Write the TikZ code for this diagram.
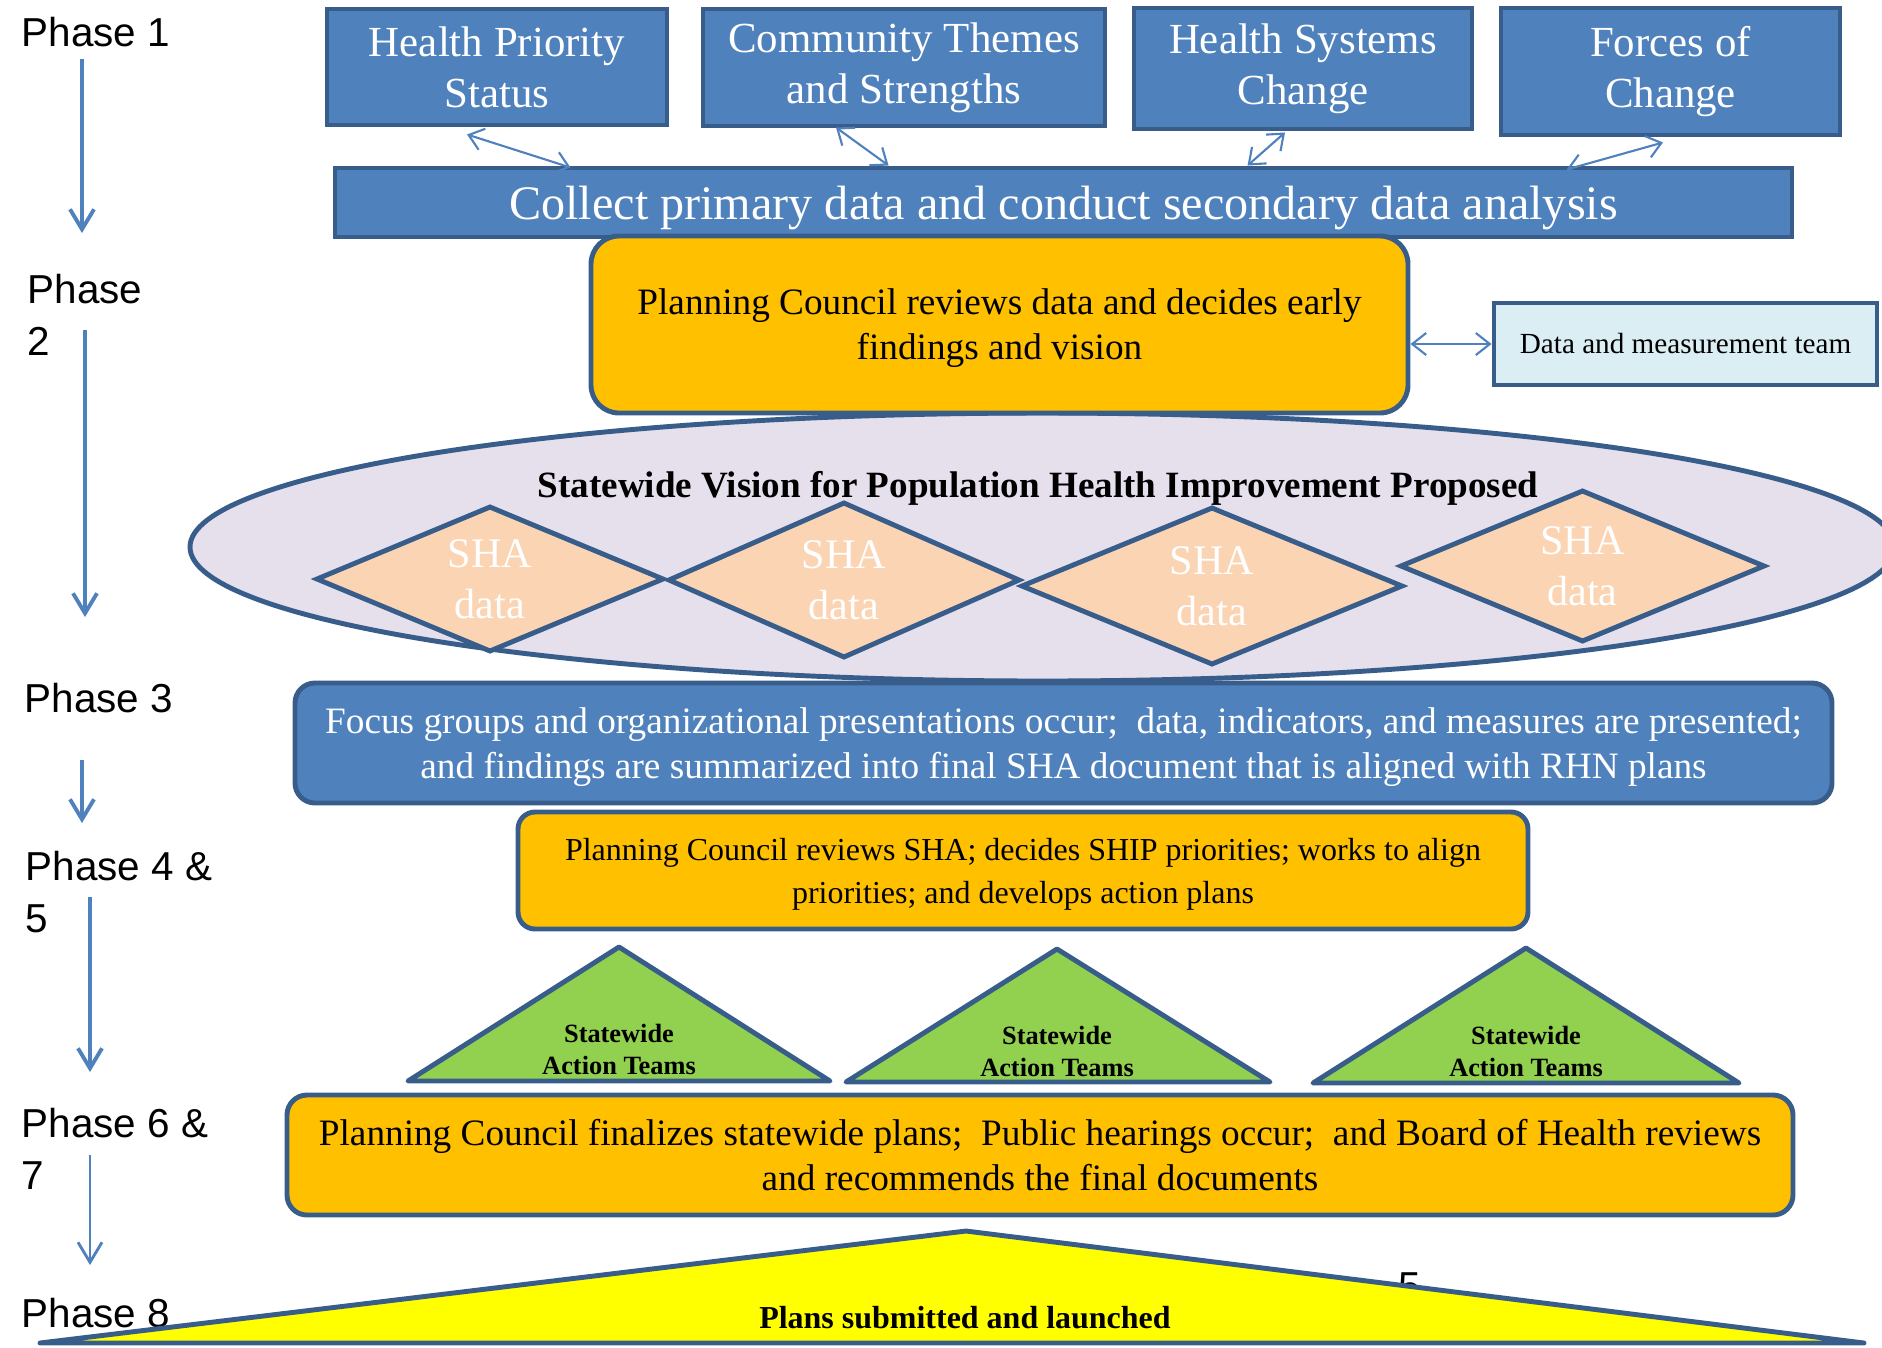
\documentclass[tikz,border=0pt]{standalone}
\usepackage{fontspec}
\setmainfont{Liberation Serif}
\newfontfamily\phasefont{Liberation Sans}
\usepackage{tikz}
\usetikzlibrary{shapes.geometric,arrows.meta,positioning}
\usepackage{xcolor}
\definecolor{boxblue}{RGB}{79,129,189}
\definecolor{edgeblue}{RGB}{56,93,138}
\definecolor{councilorange}{RGB}{255,192,0}
\definecolor{visionlilac}{RGB}{229,224,236}
\definecolor{shapeach}{RGB}{251,212,180}
\definecolor{teamgreen}{RGB}{146,208,80}
\definecolor{datablue}{RGB}{219,238,244}
\definecolor{launchyellow}{RGB}{255,255,0}
\newcommand{\setfs}[2]{\fontsize{#1}{#2}\selectfont}

\begin{document}
\begin{tikzpicture}[
  phase/.style={font=\phasefont\setfs{11.5}{14.8}, anchor=north west, align=left, inner sep=0pt},
  factor/.style={draw=edgeblue, line width=1.4pt, fill=boxblue, text=white, align=center, inner sep=0pt, font=\setfs{12.2}{14.5}},
  rbox/.style={draw=edgeblue, line width=1.4pt, rounded corners=0.2cm, align=center, inner sep=0pt},
  shadata/.style={diamond, aspect=2.4, draw=edgeblue, line width=1.4pt, fill=shapeach, text=white, align=center, inner sep=0pt, font=\setfs{12}{14.5}},
  team/.style={draw=edgeblue, line width=1.4pt, fill=teamgreen, line join=round},
  teamtext/.style={align=center, inner sep=0pt, font=\bfseries\setfs{7.5}{9.1}},
  phasearrow/.style={draw=boxblue, line width=1.1pt, -{Straight Barb[length=2mm,width=2.4mm]}},
  link/.style={draw=boxblue, line width=0.6pt, {Straight Barb[length=1.4mm,width=2.2mm]}-{Straight Barb[length=1.4mm,width=2.2mm]}}
]
  \useasboundingbox (0,0) rectangle (18.82,-13.47);

  % Phase labels down the left side
  \node[phase] (ph1) at (0.21,-0.16) {Phase 1};
  \node[phase] (ph2) at (0.27,-2.73) {Phase\\2};
  \node[phase] (ph3) at (0.24,-6.82) {Phase 3};
  \node[phase] (ph45) at (0.25,-8.50) {Phase 4 \&\\5};
  \node[phase] (ph67) at (0.21,-11.07) {Phase 6 \&\\7};
  \node[phase] (ph8) at (0.21,-12.97) {Phase 8};

  \coordinate (p1top) at (0.82,-0.59);  \coordinate (p1bot) at (0.82,-2.33);
  \coordinate (p2top) at (0.85,-3.30);  \coordinate (p2bot) at (0.85,-6.17);
  \coordinate (p3top) at (0.82,-7.60);  \coordinate (p3bot) at (0.82,-8.23);
  \coordinate (p4top) at (0.90,-8.97);  \coordinate (p4bot) at (0.90,-10.72);
  \coordinate (p6top) at (0.90,-11.55); \coordinate (p6bot) at (0.90,-12.65);
  \draw[phasearrow] (p1top) -- (p1bot);
  \draw[phasearrow] (p2top) -- (p2bot);
  \draw[phasearrow] (p3top) -- (p3bot);
  \draw[phasearrow] (p4top) -- (p4bot);
  \draw[phasearrow, line width=0.8pt] (p6top) -- (p6bot);

  % Phase 1: assessments feeding the data collection
  \node[factor, minimum width=3.40cm, minimum height=1.16cm] (hp) at (4.97,-0.67) {Health Priority\\Status};
  \node[factor, minimum width=4.02cm, minimum height=1.17cm] (ct) at (9.04,-0.675) {Community Themes\\and Strengths};
  \node[factor, minimum width=3.38cm, minimum height=1.21cm] (hs) at (13.03,-0.685) {Health Systems\\Change};
  \node[factor, minimum width=3.39cm, minimum height=1.27cm] (fc) at (16.705,-0.715) {Forces of\\Change};
  \node[factor, minimum width=14.57cm, minimum height=0.69cm, text depth=0pt, font=\setfs{13.7}{16}] (collect) at (10.635,-2.025) {Collect primary data and conduct secondary data analysis};

  \draw[link] ([shift={(-0.30,-0.07)}]hp.south) -- ([shift={(2.38,-0.02)}]collect.north west);
  \draw[link] ([shift={(-0.68,0.01)}]ct.south) -- ([shift={(5.56,0)}]collect.north west);
  \draw[link] ([shift={(-0.18,-0.01)}]hs.south) -- ([shift={(9.15,0)}]collect.north west);
  \draw[link] ([shift={(-0.075,-0.05)}]fc.south) -- ([shift={(12.34,-0.04)}]collect.north west);

  % Phase 2: vision with the SHA data
  \node[ellipse, draw=edgeblue, line width=1.4pt, fill=visionlilac, minimum width=17.05cm, minimum height=2.68cm] (vision) at (10.425,-5.47) {};
  \node[font=\bfseries\setfs{10.55}{12.7}, anchor=base, inner sep=0pt] (visiontitle) at (10.38,-4.97) {Statewide Vision for Population Health Improvement Proposed};

  \node[rbox, fill=councilorange, rounded corners=0.28cm, minimum width=8.17cm, minimum height=1.77cm, text depth=0pt, font=\setfs{10.6}{12.8}] (review) at (9.995,-3.245) {Planning Council reviews data and decides early\\findings and vision};
  \node[draw=edgeblue, line width=1.4pt, fill=datablue, minimum width=3.83cm, minimum height=0.82cm, inner sep=0pt, font=\setfs{8.3}{10}] (dmteam) at (16.855,-3.44) {Data and measurement team};
  \draw[link] (review.east |- dmteam.west) -- (dmteam.west);

  \node[shadata, minimum width=3.48cm, minimum height=1.46cm] (sha1) at (4.90,-5.79) {SHA\\data};
  \node[shadata, minimum width=3.52cm, minimum height=1.56cm] (sha2) at (8.44,-5.80) {SHA\\data};
  \node[shadata, minimum width=3.82cm, minimum height=1.58cm] (sha3) at (12.12,-5.86) {SHA\\data};
  \node[shadata, minimum width=3.65cm, minimum height=1.52cm] (sha4) at (15.825,-5.66) {SHA\\data};

  % Phase 3
  \node[rbox, fill=boxblue, text=white, minimum width=15.37cm, minimum height=1.20cm, text depth=0pt, font=\setfs{10.6}{12.8}] (focus) at (10.635,-7.43) {Focus groups and organizational presentations occur;\ \ data, indicators, and measures are presented;\\and findings are summarized into final SHA document that is aligned with RHN plans};

  % Phase 4 & 5
  \node[rbox, fill=councilorange, rounded corners=0.17cm, minimum width=10.10cm, minimum height=1.17cm, text depth=0pt, font=\setfs{9.1}{12.2}] (shaplan) at (10.23,-8.705) {Planning Council reviews SHA; decides SHIP priorities; works to align\\priorities; and develops action plans};

  \filldraw[team] (4.08,-10.81) -- (6.19,-9.47) -- (8.30,-10.81) -- cycle;
  \filldraw[team] (8.46,-10.82) -- (10.57,-9.49) -- (12.70,-10.82) -- cycle;
  \filldraw[team] (13.13,-10.83) -- (15.26,-9.48) -- (17.39,-10.83) -- cycle;
  \node[teamtext] (team1) at (6.19,-10.49) {Statewide\\Action Teams};
  \node[teamtext] (team2) at (10.57,-10.51) {Statewide\\Action Teams};
  \node[teamtext] (team3) at (15.26,-10.51) {Statewide\\Action Teams};

  % Phase 6 & 7
  \node[rbox, fill=councilorange, minimum width=15.06cm, minimum height=1.20cm, font=\setfs{10.6}{12.8}] (final) at (10.40,-11.55) {Planning Council finalizes statewide plans;\ \ Public hearings occur;\ \ and Board of Health reviews\\and recommends the final documents};

  % Phase 8
  \node[font=\phasefont\setfs{11.5}{14}, anchor=north west, inner sep=0pt] (pagefive) at (13.98,-12.72) {5};
  \filldraw[draw=edgeblue, line width=1.4pt, fill=launchyellow, line join=round] (0.40,-13.43) -- (9.66,-12.31) -- (18.64,-13.43) -- cycle;
  \node[font=\bfseries\setfs{9.1}{11}, anchor=base, inner sep=0pt] (launch) at (9.65,-13.28) {Plans submitted and launched};
\end{tikzpicture}
\end{document}
